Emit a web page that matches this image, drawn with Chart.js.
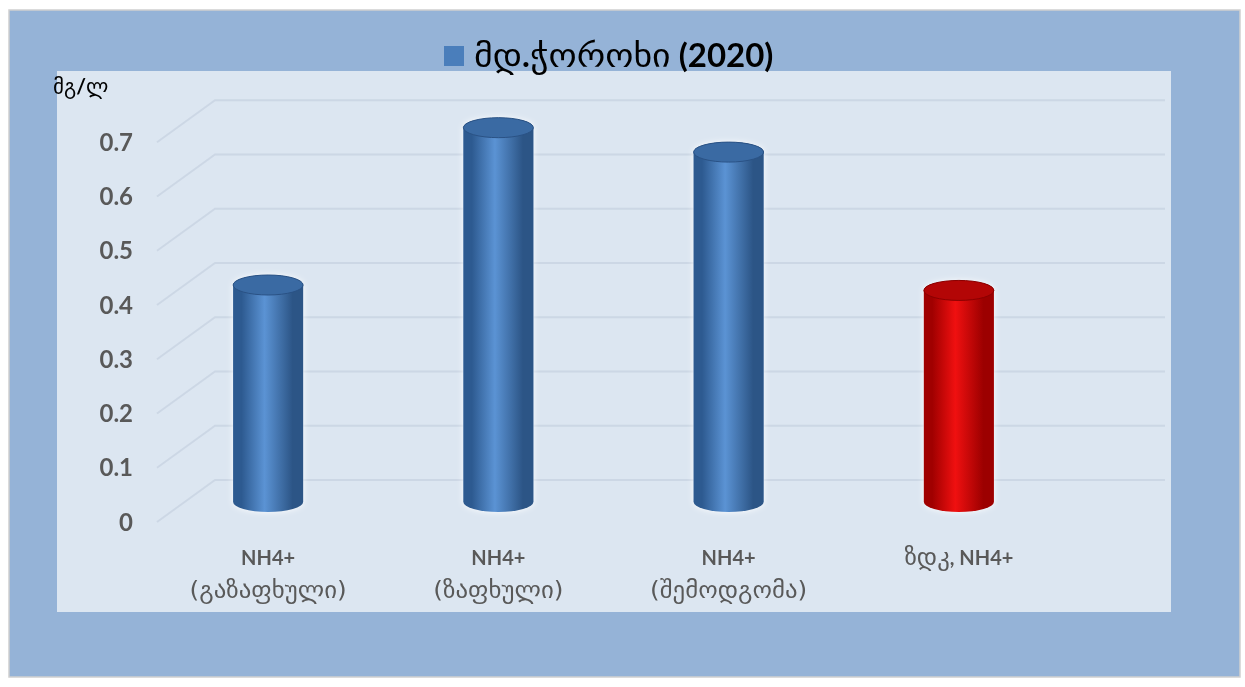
<!DOCTYPE html>
<html><head><meta charset="utf-8">
<script src="https://cdn.jsdelivr.net/npm/chart.js@4.4.1/dist/chart.umd.min.js"></script>
<style>html,body{margin:0;padding:0;background:#fff;}#wrap{width:1245px;height:687px;position:relative}</style>
</head><body><div id="wrap"><canvas id="c" width="1245" height="687"></canvas></div>
<script>
// ---- data ----
const seriesName = 'მდ.ჭოროხი (2020)';
const unitLabel = 'მგ/ლ';
const labelLine1 = ['NH4+', 'NH4+', 'NH4+', 'ზდკ, NH4+'];
const labelLine2 = ['(გაზაფხული)', '(ზაფხული)', '(შემოდგომა)', ''];
const values = [0.40, 0.69, 0.645, 0.39];
const yTicks = [0, 0.1, 0.2, 0.3, 0.4, 0.5, 0.6, 0.7];
const yTickLabels = ['0', '0.1', '0.2', '0.3', '0.4', '0.5', '0.6', '0.7'];
// ---- style ----
const barColors = ['#4a7ebb', '#4a7ebb', '#4a7ebb', '#d80000'];
const palettes = {
  '#4a7ebb': {dark: '#2d5a90', light: '#5b93d4', dark2: '#2c5586', top: '#3a6aa3', rim: '#2a5285'},
  '#d80000': {dark: '#a00000', light: '#f01010', dark2: '#9c0000', top: '#b30606', rim: '#8a0000'}
};
const GEO = '"DejaVu Sans"';
const LAT = 'Lato, "Open Sans", sans-serif';

function splitRuns(text, parenG) {
  const out = [];
  for (const ch of text) {
    const g = /[\u10A0-\u10FF]/.test(ch) || (parenG && /[()]/.test(ch));
    if (out.length && out[out.length - 1].g === g) out[out.length - 1].t += ch;
    else out.push({t: ch, g});
  }
  return out;
}
function drawRich(ctx, text, x, y, align, gFont, lFont, color, parenG, gScale) {
  const rs = splitRuns(text, parenG);
  let total = 0;
  rs.forEach(r => { ctx.font = r.g ? gFont : lFont; r.w = ctx.measureText(r.t).width * (r.g ? gScale : 1); total += r.w; });
  let cx = align === 'center' ? x - total / 2 : (align === 'right' ? x - total : x);
  ctx.fillStyle = color; ctx.textBaseline = 'alphabetic'; ctx.textAlign = 'left';
  rs.forEach(r => {
    ctx.font = r.g ? gFont : lFont;
    if (r.g) { ctx.save(); ctx.translate(cx, y); ctx.scale(gScale, 1); ctx.fillText(r.t, 0, 0); ctx.restore(); }
    else ctx.fillText(r.t, cx, y);
    cx += r.w;
  });
  return total;
}

const decor = {
  id: 'decor',
  beforeDraw(chart) {
    const ctx = chart.ctx;
    ctx.save();
    ctx.fillStyle = '#ffffff'; ctx.fillRect(0, 0, chart.width, chart.height);
    ctx.fillStyle = '#95b3d7'; ctx.fillRect(9, 10, 1231, 667);
    ctx.strokeStyle = '#d0d0d0'; ctx.lineWidth = 1.5; ctx.strokeRect(9, 10, 1231, 667);
    ctx.fillStyle = '#dce6f1'; ctx.fillRect(57, 71, 1114, 541);
    ctx.restore();
  },
  beforeDatasetsDraw(chart) {
    const ctx = chart.ctx, ys = chart.scales.y, a = chart.chartArea;
    ctx.save();
    ctx.strokeStyle = 'rgba(150,165,185,0.22)'; ctx.lineWidth = 2;
    yTicks.forEach(v => {
      const p = ys.getPixelForValue(v);
      ctx.beginPath();
      ctx.moveTo(a.left + 4, p + 20);
      ctx.lineTo(a.left + 62, p - 22);
      ctx.lineTo(a.right + 91, p - 22);
      ctx.stroke();
    });
    ctx.restore();
  },
  afterDatasetsDraw(chart) {
    const ctx = chart.ctx;
    const meta = chart.getDatasetMeta(0);
    meta.data.forEach((bar, i) => {
      const {x, y, base, width} = bar.getProps(['x', 'y', 'base', 'width'], true);
      const pal = palettes[barColors[i]];
      const rx = width / 2, ry = 10, l = x - rx, r = x + rx;
      ctx.save();
      ctx.shadowColor = 'rgba(255,255,255,0.95)'; ctx.shadowBlur = 6;
      const g = ctx.createLinearGradient(l, 0, r, 0);
      g.addColorStop(0, pal.dark); g.addColorStop(0.12, pal.dark);
      g.addColorStop(0.45, pal.light); g.addColorStop(0.85, pal.dark2); g.addColorStop(1, pal.dark2);
      ctx.fillStyle = g;
      ctx.beginPath();
      ctx.moveTo(l, y); ctx.lineTo(l, base);
      ctx.ellipse(x, base, rx, ry, 0, Math.PI, 0, true);
      ctx.lineTo(r, y);
      ctx.ellipse(x, y, rx, ry, 0, 0, Math.PI, true);
      ctx.closePath(); ctx.fill();
      ctx.shadowBlur = 0;
      ctx.beginPath(); ctx.ellipse(x, y, rx, ry, 0, 0, Math.PI * 2);
      ctx.fillStyle = pal.top; ctx.fill();
      ctx.strokeStyle = pal.rim; ctx.lineWidth = 1; ctx.stroke();
      ctx.restore();
    });
  },
  afterDraw(chart) {
    const ctx = chart.ctx, xs = chart.scales.x;
    ctx.save();
    // legend
    ctx.fillStyle = barColors[0]; ctx.fillRect(444, 46, 20, 20);
    drawRich(ctx, seriesName, 474, 67, 'left', '32px ' + GEO, 'bold 33px ' + LAT, '#000', false, 1.12);
    // unit
    drawRich(ctx, unitLabel, 53, 94, 'left', '21px ' + GEO, 'bold 21px ' + LAT, '#000', false, 1.0);
    // x labels
    labelLine1.forEach((t, i) => {
      const px = xs.getPixelForTick(i);
      drawRich(ctx, t, px, 565, 'center', '23px ' + GEO, 'bold 20px ' + LAT, '#595959', true, 1.08);
      if (labelLine2[i]) drawRich(ctx, labelLine2[i], px, 598, 'center', '23px ' + GEO, 'bold 20px ' + LAT, '#595959', true, 1.08);
    });
    ctx.restore();
  }
};

new Chart(document.getElementById('c'), {
  type: 'bar',
  data: {
    labels: labelLine1.map((t, i) => (t + ' ' + labelLine2[i]).trim()),
    datasets: [{
      label: seriesName,
      data: values,
      backgroundColor: barColors,
      borderWidth: 0,
      barPercentage: 0.304,
      categoryPercentage: 1
    }]
  },
  options: {
    responsive: false,
    animation: false,
    layout: {padding: {top: 68, bottom: 185, left: 0, right: 171}},
    plugins: {legend: {display: false}, tooltip: {enabled: false}, title: {display: false}},
    scales: {
      x: {
        ticks: {display: false},
        grid: {display: false},
        border: {display: false},
        afterFit(s) { s.height = 0; }
      },
      y: {
        min: 0, max: 0.8,
        afterBuildTicks(s) { s.ticks = yTicks.map(v => ({value: v})); },
        ticks: {
          labelOffset: 21, padding: 12, color: '#595959',
          font: {family: 'Lato, "Open Sans", sans-serif', weight: 'bold', size: 24},
          callback: (v) => yTickLabels[yTicks.findIndex(t => Math.abs(t - v) < 1e-6)]
        },
        grid: {display: false},
        border: {display: false},
        afterFit(s) { s.width = 153; }
      }
    }
  },
  plugins: [decor]
});
</script></body></html>
